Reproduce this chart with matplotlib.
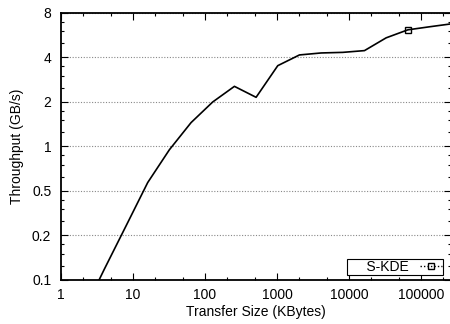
import matplotlib

matplotlib.use("Agg")
import matplotlib.pyplot as plt
from matplotlib.lines import Line2D
from matplotlib.ticker import FixedLocator, NullFormatter, LogLocator

plt.rcParams["font.family"] = ["Liberation Sans", "DejaVu Sans"]
plt.rcParams["font.size"] = 10

# transfer size in KBytes (powers of two) and measured throughput in GB/s
SIZES_KB = [1, 2, 4, 8, 16, 32, 64, 128, 256, 512, 1024, 2048, 4096,
            8192, 16384, 32768, 65536, 131072, 262144]
THROUGHPUT = [0.037, 0.074, 0.148, 0.29, 0.57, 0.95, 1.45, 2.0, 2.55, 2.15,
              3.52, 4.16, 4.29, 4.33, 4.45, 5.43, 6.15, 6.45, 6.75]
MARKED_SIZE = 65536
SERIES_LABEL = "S-KDE"

Y_TICKS = [0.125, 0.25, 0.5, 1, 2, 4, 8]
Y_TICK_LABELS = ["0.1", "0.2", "0.5", "1", "2", "4", "8"]
X_TICKS = [1, 10, 100, 1000, 10000, 100000]
X_TICK_LABELS = ["1", "10", "100", "1000", "10000", "100000"]


def main() -> None:
    fig = plt.figure(figsize=(4.5, 3.24), dpi=100)
    ax = fig.add_axes([0.1356, 0.136, 0.867, 0.824])

    ax.plot(SIZES_KB, THROUGHPUT, color="black", linewidth=1.2,
            marker="s", markersize=5, markerfacecolor="none", markeredgewidth=1.0,
            markevery=[SIZES_KB.index(MARKED_SIZE)], clip_on=True)

    ax.set_xscale("log")
    ax.set_yscale("log", base=2)
    ax.set_xlim(1, 262144)
    ax.set_ylim(0.125, 8)

    ax.set_xticks(X_TICKS, X_TICK_LABELS)
    ax.xaxis.set_minor_locator(LogLocator(base=10, subs=(2, 5)))
    ax.xaxis.set_minor_formatter(NullFormatter())

    ax.set_yticks(Y_TICKS, Y_TICK_LABELS)
    minor_y = [t * f for t in Y_TICKS[:-1] for f in (1.25, 1.5, 1.75)]
    ax.yaxis.set_minor_locator(FixedLocator(minor_y))
    ax.yaxis.set_minor_formatter(NullFormatter())

    ax.tick_params(which="both", direction="in", top=True, right=True, width=0.8)
    ax.tick_params(which="major", length=5)
    ax.tick_params(which="minor", length=2.5)
    ax.tick_params(axis="x", which="major", pad=6)
    ax.tick_params(axis="y", which="major", pad=7)

    ax.grid(True, axis="y", which="major", linestyle=(0, (1, 1.5)),
            color="#888888", linewidth=0.8)
    ax.set_axisbelow(True)
    for spine in ax.spines.values():
        spine.set_linewidth(1.3)

    ax.set_xlabel("Transfer Size (KBytes)", labelpad=2)
    ax.set_ylabel("Throughput (GB/s)", labelpad=6)

    handle = Line2D([], [], color="black", linestyle=(0, (1, 1.5)), linewidth=1.0,
                    marker="s", markersize=5, markerfacecolor="none",
                    markeredgewidth=1.0)
    legend = ax.legend([handle], ["     " + SERIES_LABEL], loc="lower right",
                       bbox_to_anchor=(0.979, 0.019), markerfirst=False,
                       fancybox=False, framealpha=1, edgecolor="black",
                       borderpad=0.05, handlelength=1.6, handletextpad=0.8,
                       borderaxespad=0)
    legend.get_frame().set_linewidth(0.8)

    fig.savefig("out.png", dpi=100)


if __name__ == "__main__":
    main()
